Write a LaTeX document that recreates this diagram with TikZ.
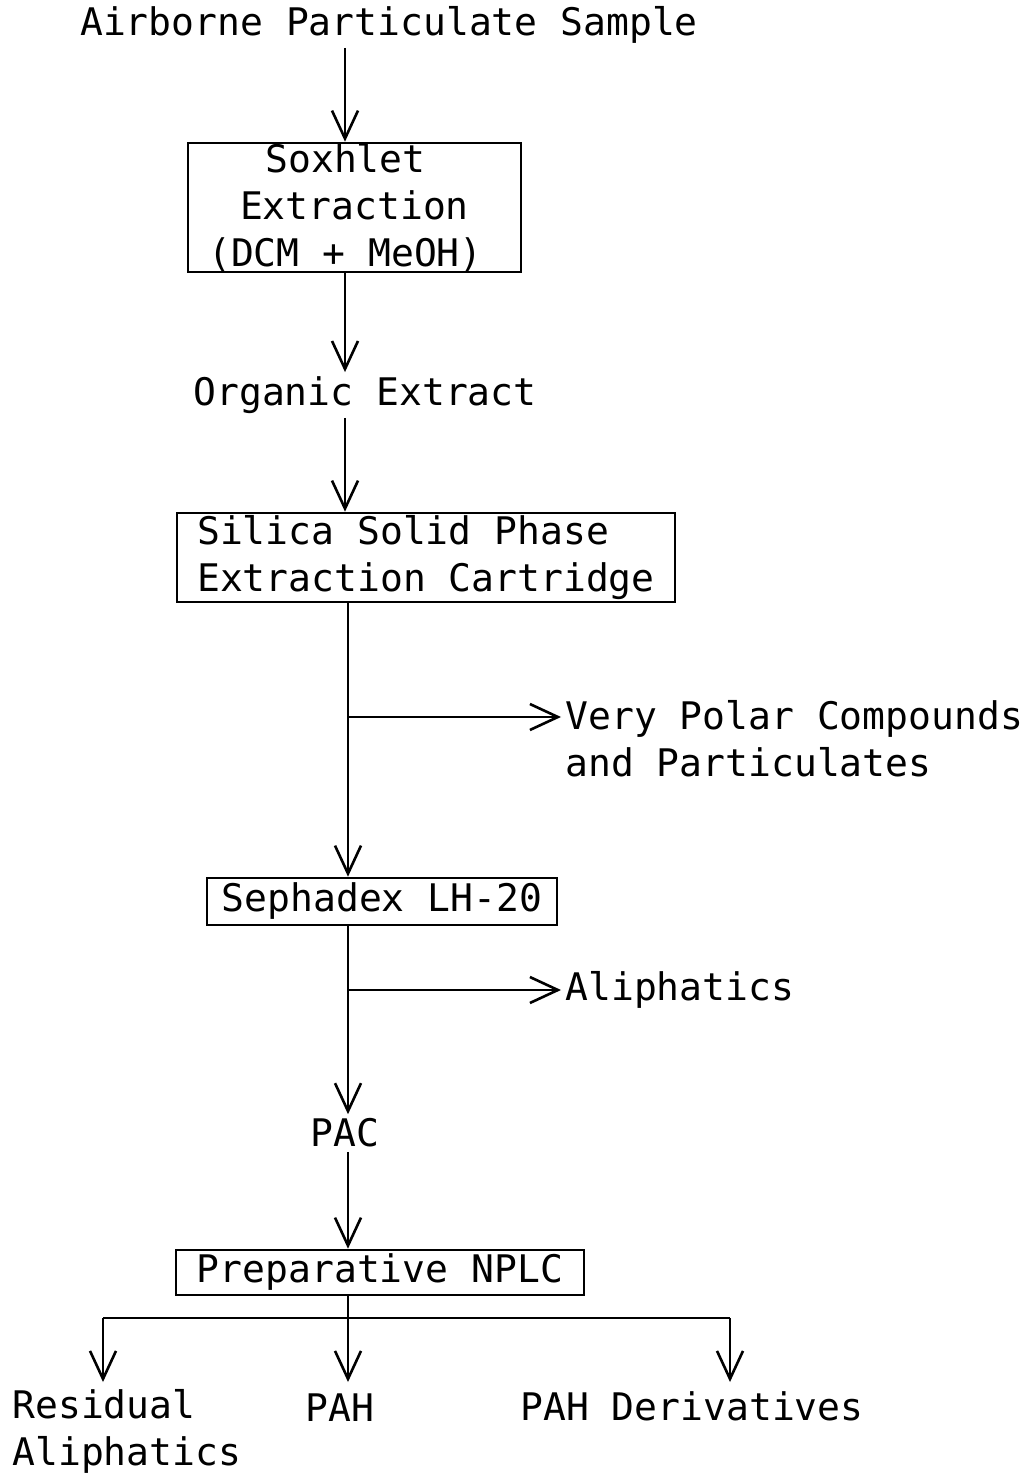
\documentclass[tikz,border=0pt]{standalone}
\usepackage{fontspec}
\setmainfont{DejaVu Sans Mono}
\usetikzlibrary{arrows.meta}
\begin{document}
\begin{tikzpicture}[x=0.5pt,y=-0.5pt,
  every node/.style={font=\fontsize{19}{23.5}\selectfont, inner sep=2pt},
  lbl/.style={align=center},
  boxnode/.style={draw, line width=1.3pt, inner sep=0pt},
  ln/.style={line width=1.3pt},
  arr/.style={ln, -{Straight Barb[length=14pt,width=13pt,line width=1.3pt]}}]
\useasboundingbox (0,0) rectangle (1032,1475);
% spine coordinates
\coordinate (s1) at (345,0);
\coordinate (s2) at (348,0);
% nodes
\node[lbl] (air) at (389,25) {Airborne Particulate Sample};
\node[boxnode, minimum width=166.5pt, minimum height=64.5pt, align=center] (box1) at (354.5,207.5) {\hspace*{-9pt}Soxhlet\\Extraction\\\hspace*{-9pt}(DCM + MeOH)};
\node[lbl] (org) at (365,395) {Organic Extract};
\node[boxnode, minimum width=249pt, minimum height=44.5pt, align=left] (box2) at (426,557.5) {Silica Solid Phase\\Extraction Cartridge};
\node[anchor=west, align=left] (vp) at (561,739) {Very Polar Compounds\\and Particulates};
\node[boxnode, minimum width=175pt, minimum height=23.5pt] (box3) at (382,901.5) {Sephadex LH-20};
\node[anchor=west] (ali) at (561,990) {Aliphatics};
\node[lbl] (pac) at (345,1133) {PAC};
\node[boxnode, minimum width=204pt, minimum height=22.5pt] (box4) at (380,1272.5) {Preparative NPLC};
\node[anchor=west, align=left] (res) at (8,1431) {Residual\\Aliphatics};
\node[lbl] (pah) at (340,1408) {PAH};
\node[lbl] (der) at (692,1406) {PAH Derivatives};
% junction coordinates
\coordinate (b1) at (348,717);
\coordinate (b2) at (348,990);
\coordinate (j1) at (103,1318);
\coordinate (j2) at (348,1318);
\coordinate (j3) at (730,1318);
\coordinate (e1) at (103,1382);
\coordinate (e2) at (348,1382);
\coordinate (e3) at (730,1382);
% connectors
\draw[arr] (air.south -| s1) -- (box1.north -| s1);
\draw[arr] (box1.south -| s1) -- (org.north -| s1);
\draw[arr] (org.south -| s1) -- (box2.north -| s1);
\draw[arr] (box2.south -| s2) -- (box3.north -| s2);
\draw[arr] (b1) -- (b1 -| vp.west);
\draw[arr] (box3.south -| s2) -- (pac.north -| s2);
\draw[arr] (b2) -- (ali.west);
\draw[arr] (pac.south -| s2) -- (box4.north -| s2);
\draw[arr] (box4.south -| s2) -- (e2);
\draw[ln] (j1) -- (j3);
\draw[arr] (j1) -- (e1);
\draw[arr] (j3) -- (e3);
\end{tikzpicture}
\end{document}
